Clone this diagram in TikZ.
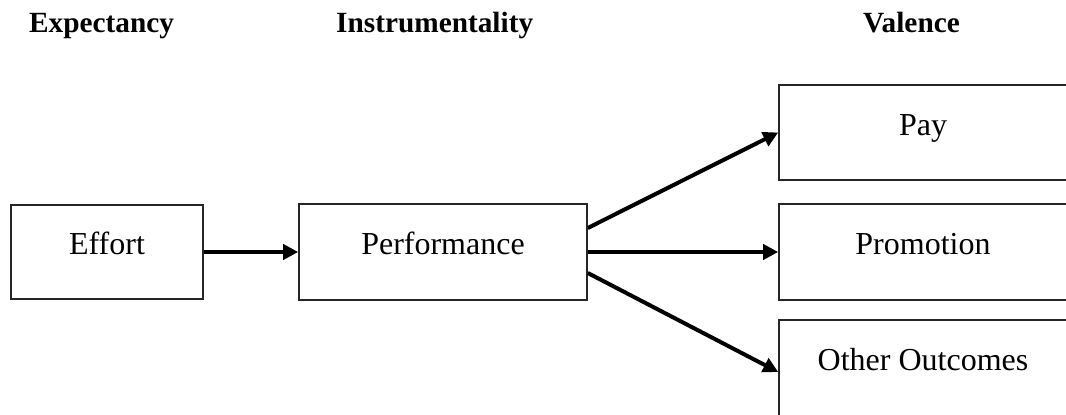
\documentclass[tikz,border=0pt]{standalone}
\usepackage{fontspec}
\setmainfont{Liberation Serif}
\usetikzlibrary{arrows.meta}
\begin{document}
\begin{tikzpicture}[x=1pt,y=-1pt,
  box/.style={draw=black!85, line width=1.6pt, inner sep=0pt,
    font=\fontsize{32}{38}\selectfont, text height=14pt, text depth=9pt},
  hdr/.style={anchor=base west, inner sep=0pt,
    font=\fontsize{29.3}{35}\selectfont\bfseries},
  arr/.style={line width=4pt, -{Triangle[length=15pt,width=15pt]}}]
\useasboundingbox (0,0) rectangle (1066,415);
\clip (0,0) rectangle (1066,415);
\node[hdr] (h1) at (29,32) {Expectancy};
\node[hdr] (h2) at (336,32) {Instrumentality};
\node[hdr] (h3) at (863,32) {Valence};
\node[box, minimum width=192pt, minimum height=94pt] (effort) at (107,252) {Effort};
\node[box, minimum width=288pt, minimum height=96pt] (perf) at (443,252) {Performance};
\node[box, minimum width=288pt, minimum height=95pt] (pay) at (923,132.5) {Pay};
\node[box, minimum width=288pt, minimum height=96pt] (promo) at (923,252) {Promotion};
\node[box, minimum width=288pt, minimum height=96pt] (other) at (923,368) {Other Outcomes};
\draw[arr] (effort.east) -- (perf.west);
\draw[arr] ([yshift=24pt]perf.east) -- (pay.west);
\draw[arr] (perf.east) -- (promo.west);
\draw[arr] ([yshift=-21pt]perf.east) -- ([yshift=-4pt]other.west);
\end{tikzpicture}
\end{document}
